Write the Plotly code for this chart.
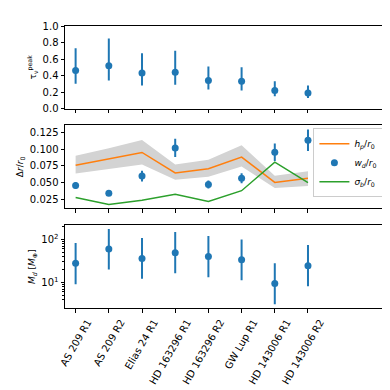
import numpy as np
import plotly.graph_objects as go
from plotly.subplots import make_subplots

# discs / rings
names = ["AS 209 R1", "AS 209 R2", "Elias 24 R1", "HD 163296 R1",
         "HD 163296 R2", "GW Lup R1", "HD 143006 R1", "HD 143006 R2"]

# peak optical depth with lower / upper bounds
tau_peak = [0.46, 0.52, 0.43, 0.44, 0.34, 0.33, 0.22, 0.19]
tau_lo = [0.30, 0.34, 0.28, 0.29, 0.23, 0.22, 0.15, 0.13]
tau_hi = [0.73, 0.85, 0.67, 0.70, 0.51, 0.50, 0.33, 0.28]

# widths
hp = [0.0757, 0.0856, 0.0949, 0.0643, 0.0707, 0.0880, 0.0501, 0.0565]
hp_lo = [0.0634, 0.0700, 0.0770, 0.0540, 0.0588, 0.0739, 0.0419, 0.0450]
hp_hi = [0.0898, 0.1010, 0.1136, 0.0770, 0.0840, 0.1058, 0.0602, 0.0670]
wd = [0.0455, 0.0341, 0.0597, 0.1017, 0.0469, 0.0565, 0.0953, 0.1131]
wd_err = [0.0050, 0.0030, 0.0080, 0.0135, 0.0060, 0.0075, 0.0130, 0.0160]
sigb = [0.0277, 0.0172, 0.0236, 0.0323, 0.0218, 0.0378, 0.0803, 0.0497]

# dust mass (earth masses)
md = [27.7, 60.0, 36.0, 49.0, 40.0, 33.8, 9.4, 24.3]
md_lo = [9.1, 20.0, 12.2, 16.4, 13.2, 11.2, 3.1, 8.1]
md_hi = [82.0, 175.0, 108.0, 148.0, 120.0, 100.0, 28.0, 74.0]

x = np.arange(len(names))
blue, orange, green = "#1f77b4", "#ff7f0e", "#2ca02c"

fig = make_subplots(rows=3, cols=1, shared_xaxes=True)

tp = np.array(tau_peak)
fig.add_trace(go.Scatter(
    x=x, y=tp, mode="markers", marker=dict(color=blue, size=7), showlegend=False,
    error_y=dict(type="data", array=np.array(tau_hi) - tp, arrayminus=tp - np.array(tau_lo),
                 color=blue, thickness=2, width=0)), row=1, col=1)

# grey band for h_p
fig.add_trace(go.Scatter(x=x, y=hp_hi, mode="lines", line=dict(width=0),
                         showlegend=False, hoverinfo="skip"), row=2, col=1)
fig.add_trace(go.Scatter(x=x, y=hp_lo, mode="lines", line=dict(width=0), fill="tonexty",
                         fillcolor="#d3d3d3", showlegend=False, hoverinfo="skip"), row=2, col=1)
fig.add_trace(go.Scatter(x=x, y=hp, mode="lines", line=dict(color=orange, width=1.5),
                         name="<i>h<sub>p</sub></i>/<i>r</i><sub>0</sub>"), row=2, col=1)
fig.add_trace(go.Scatter(
    x=x, y=wd, mode="markers", marker=dict(color=blue, size=7),
    name="<i>w<sub>d</sub></i>/<i>r</i><sub>0</sub>",
    error_y=dict(type="data", array=wd_err, color=blue, thickness=2, width=0)), row=2, col=1)
fig.add_trace(go.Scatter(x=x, y=sigb, mode="lines", line=dict(color=green, width=1.5),
                         name="<i>σ<sub>b</sub></i>/<i>r</i><sub>0</sub>"), row=2, col=1)

m = np.array(md)
fig.add_trace(go.Scatter(
    x=x, y=m, mode="markers", marker=dict(color=blue, size=7), showlegend=False,
    error_y=dict(type="data", array=np.array(md_hi) - m, arrayminus=m - np.array(md_lo),
                 color=blue, thickness=2, width=0)), row=3, col=1)

axis_style = dict(showline=True, linecolor="black", linewidth=1, mirror=True,
                  ticks="outside", ticklen=3.5, tickcolor="black", showgrid=False,
                  zeroline=False, tickfont=dict(size=10, color="black"))

for r in (1, 2, 3):
    fig.update_xaxes(axis_style, range=[-0.32, 9.32], tickvals=x, row=r, col=1)
fig.update_xaxes(ticktext=names, tickangle=-60, ticklabelshift=12, row=3, col=1)
fig.update_xaxes(showticklabels=False, row=1, col=1)
fig.update_xaxes(showticklabels=False, row=2, col=1)

fig.update_yaxes(axis_style, range=[0, 1], dtick=0.2, tickformat=".1f",
                 domain=[0.707, 1.0], row=1, col=1,
                 title=dict(text="τ<sub>ν</sub><sup>peak</sup>", font=dict(size=9), standoff=4))
fig.update_yaxes(axis_style, range=[0.0113, 0.1355], tickvals=[0.025, 0.05, 0.075, 0.1, 0.125],
                 tickformat=".3f", domain=[0.353, 0.648], row=2, col=1,
                 title=dict(text="Δ<i>r</i>/<i>r</i><sub>0</sub>", font=dict(size=9), standoff=4))
fig.update_yaxes(axis_style, type="log", range=[0.404, 2.326], tickvals=[10, 100],
                 ticktext=["10<sup>1</sup>", "10<sup>2</sup>"],
                 minor=dict(ticks="outside", ticklen=2, tickcolor="black",
                            tickvals=[4, 5, 6, 7, 8, 9, 20, 30, 40, 50, 60, 70, 80, 90, 200]),
                 domain=[0.0, 0.293], row=3, col=1,
                 title=dict(text="<i>M<sub>d</sub></i> [<i>M</i><sub>⊕</sub>]", font=dict(size=9), standoff=4))

fig.update_layout(
    width=390, height=390,
    margin=dict(l=49, r=12, t=12, b=71),
    plot_bgcolor="white", paper_bgcolor="white",
    font=dict(family="DejaVu Sans", size=10, color="black"),
    legend=dict(x=0.995, y=0.637, xanchor="right", yanchor="top", traceorder="normal",
                bgcolor="rgba(255,255,255,0.8)", bordercolor="#cccccc", borderwidth=1,
                font=dict(size=9), tracegroupgap=0, itemwidth=30),
)

fig.write_html("out.html")
